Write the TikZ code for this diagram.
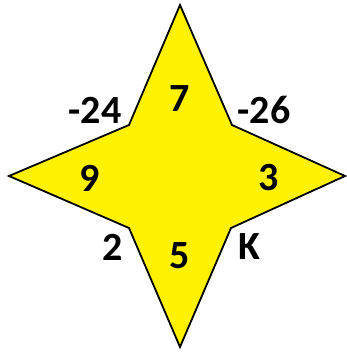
\documentclass[tikz,border=0pt]{standalone}
\usepackage{fontspec}
\setmainfont{Carlito}
\usepackage{tikz}
\usetikzlibrary{positioning}

\begin{document}
\begin{tikzpicture}[x=1pt, y=-1pt,
        num/.style={font=\fontsize{40}{40}\selectfont\bfseries, inner sep=0pt, anchor=center}
    ]
    \useasboundingbox (0,0) rectangle (346,352);
    % Estrela
    \coordinate (top) at (180,5);
    \coordinate (ur) at (232,125);
    \coordinate (right) at (345,176);
    \coordinate (lr) at (231,228);
    \coordinate (bottom) at (180,347);
    \coordinate (ll) at (129,228);
    \coordinate (left) at (9,176);
    \coordinate (ul) at (129,125);
    \draw[line width=1.8pt, fill=yellow, line join=miter]
        (top) -- (ur) -- (right) -- (lr) -- (bottom) -- (ll) -- (left) -- (ul) -- cycle;
    % Numeros dentro
    \node[num] (n7) at (180,98.5) {7};
    \node[num] (n9) at (90,178) {9};
    \node[num] (n3) at (269,178) {3};
    \node[num] (n5) at (180,256) {5};
    % Numeros fora
    \node[num] (m24) at (95,110) {-24};
    \node[num] (m26) at (264,110) {-26};
    \node[num] (n2) at (113,247) {2};
    \node[num] (nk) at (249,247) {K};
\end{tikzpicture}
\end{document}
